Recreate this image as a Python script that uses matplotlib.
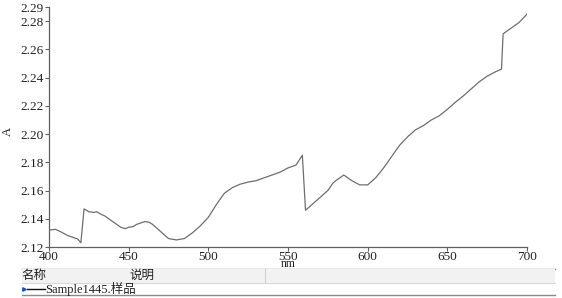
import matplotlib
matplotlib.use("Agg")
import matplotlib.pyplot as plt
from matplotlib.lines import Line2D
from matplotlib.patches import Rectangle

wavelength = [400, 404, 407, 412, 418, 420, 422, 425, 428, 430, 433, 435, 440, 445, 448,
              450, 453, 455, 460, 463, 465, 470, 475, 480, 485, 490, 495, 500, 505, 510,
              515, 520, 525, 530, 535, 540, 545, 550, 555, 559, 561, 565, 570, 575, 578,
              580, 585, 590, 595, 600, 605, 610, 615, 620, 625, 630, 635, 640, 645, 650,
              655, 660, 665, 670, 675, 680, 684, 685, 690, 695, 700]
absorbance = [2.132, 2.1325, 2.131, 2.128, 2.1257, 2.123, 2.147, 2.145, 2.1445, 2.145,
              2.143, 2.142, 2.138, 2.134, 2.133, 2.134, 2.1345, 2.136, 2.138, 2.1375,
              2.136, 2.131, 2.126, 2.125, 2.126, 2.130, 2.135, 2.141, 2.150, 2.158,
              2.162, 2.1645, 2.166, 2.167, 2.169, 2.171, 2.173, 2.176, 2.178, 2.185,
              2.146, 2.150, 2.155, 2.160, 2.165, 2.167, 2.171, 2.167, 2.164, 2.164,
              2.169, 2.176, 2.184, 2.192, 2.198, 2.203, 2.206, 2.210, 2.213, 2.2175,
              2.2225, 2.227, 2.232, 2.237, 2.241, 2.244, 2.246, 2.271, 2.275, 2.279,
              2.285]

x_ticks = [400, 450, 500, 550, 600, 650, 700]
y_ticks = [2.12, 2.14, 2.16, 2.18, 2.20, 2.22, 2.24, 2.26, 2.28, 2.29]
y_ticklabels = ["2.12", "2.14", "2.16", "2.18", "2.20", "2.22", "2.24", "2.26", "2.28", "2.29"]
x_label = "nm"
y_label = "A"
col_headers = ["名称", "说明"]
series_name = "Sample1445.样品"

plt.rcParams['font.family'] = ['Liberation Serif', 'Noto Sans CJK SC']

W, H = 562, 298
fig = plt.figure(figsize=(W / 100, H / 100), dpi=100)
ax = fig.add_axes([49 / W, 1 - 247 / H, (527 - 49) / W, (247 - 7) / H])
ax.set_zorder(2)
ax.plot(wavelength, absorbance, color="#6e6e6e", lw=0.9)
ax.set_xlim(400, 700)
ax.set_ylim(2.12, 2.29)
ax.set_xticks(x_ticks)
ax.set_xticklabels([str(v) for v in x_ticks])
ax.set_yticks(y_ticks)
ax.set_yticklabels(y_ticklabels)
for s in ["top", "right"]:
    ax.spines[s].set_visible(False)
for s in ["left", "bottom"]:
    ax.spines[s].set_color("#606060")
    ax.spines[s].set_linewidth(0.9)
ax.tick_params(axis="both", labelsize=9.5, length=3, width=0.8, color="#606060",
               pad=1, labelcolor="#222222")
ax.tick_params(axis="x", pad=0)
ax.set_xlabel(x_label, fontsize=8.5, labelpad=-4, color="#222222")
fig.text(8 / W, 1 - 131 / H, y_label, rotation=90, fontsize=9, ha="center",
         va="center", color="#222222")

# table area below the chart
def fy(p):
    return 1 - p / H

def fx(p):
    return p / W

fig.patches.append(Rectangle((fx(22), fy(283)), fx(555) - fx(22), fy(269) - fy(283),
                             transform=fig.transFigure, facecolor="#f2f2f2",
                             edgecolor="none", zorder=-1))
for yy, c, lw in [(268.5, "#8a8a8a", 1.0), (283, "#d8d8d8", 0.8), (295, "#8a8a8a", 1.0)]:
    fig.lines.append(Line2D([fx(22), fx(555)], [fy(yy), fy(yy)],
                            transform=fig.transFigure, color=c, lw=lw, zorder=-1))
fig.lines.append(Line2D([fx(265), fx(265)], [fy(269), fy(282)],
                        transform=fig.transFigure, color="#d0d0d0", lw=0.8))
fig.text(fx(21), fy(276), col_headers[0], fontsize=9, va="center", ha="left",
         color="#222222")
fig.text(fx(129), fy(276), col_headers[1], fontsize=9, va="center", ha="left",
         color="#222222")
fig.lines.append(Line2D([fx(24)], [fy(289)], transform=fig.transFigure, marker=">",
                        markersize=2.5, color="#2050d0", lw=0))
fig.lines.append(Line2D([fx(27), fx(45)], [fy(289), fy(289)],
                        transform=fig.transFigure, color="#111111", lw=1.0))
fig.text(fx(45), fy(289), series_name, fontsize=9, va="center", ha="left",
         color="#222222")

fig.savefig("out.png", dpi=100)
